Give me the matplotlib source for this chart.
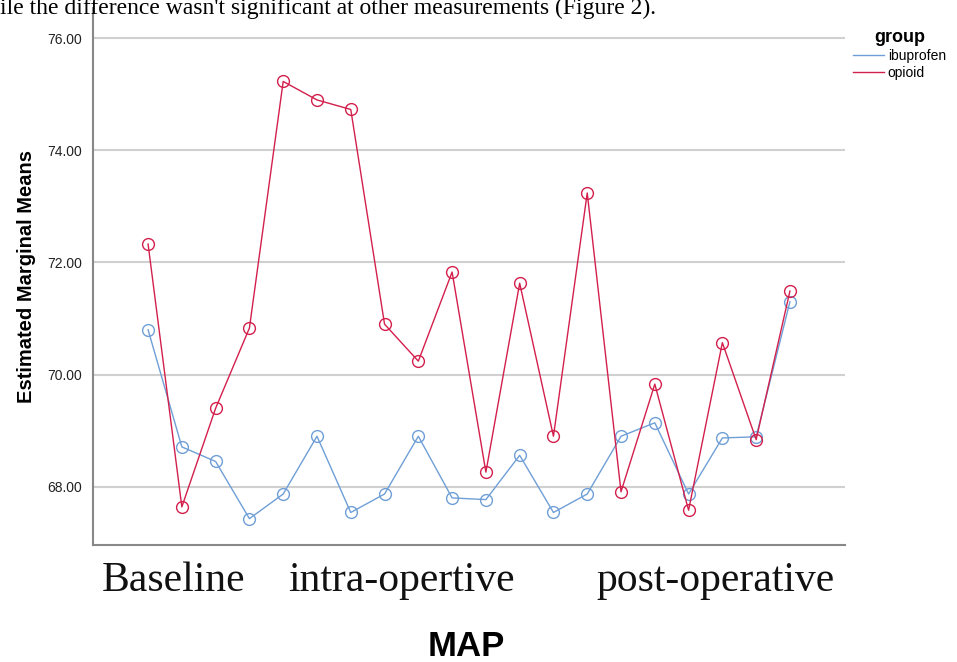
import matplotlib.pyplot as plt

# ---------------------------------------------------------------------------
# Data: estimated marginal means of MAP at 20 measurement points

points = list(range(1, 21))
ibuprofen = [70.80, 68.71, 68.45, 67.43, 67.87, 68.90, 67.54, 67.87, 68.90, 67.80,
             67.77, 68.56, 67.54, 67.87, 68.90, 69.14, 67.87, 68.87, 68.89, 71.30]
opioid = [72.33, 67.64, 69.40, 70.83, 75.23, 74.90, 74.73, 70.90, 70.24, 71.83,
          68.26, 71.63, 68.90, 73.24, 67.91, 69.83, 67.58, 70.57, 68.84, 71.49]
phase_labels = ["Baseline", "intra-opertive", "post-operative"]
y_ticks = [68, 70, 72, 74, 76]

BLUE = "#6f9fd6"
RED = "#d31f4c"

fig = plt.figure(figsize=(9.57, 6.62), dpi=100)
ax = fig.add_axes([93 / 957, 1 - 545 / 662, (845 - 93) / 957, (545 - 8) / 662])

for vals, color, name in [(ibuprofen, BLUE, "ibuprofen"), (opioid, RED, "opioid")]:
    ax.plot(points, vals, color=color, lw=1.0, label=name)
    ax.plot(points, vals, ls="none", marker="o", ms=8.5, mfc="none",
            mec=color, mew=1.0)

ax.set_xlim(-0.63, 21.63)
ax.set_ylim(66.96, 76.54)

ax.set_yticks(y_ticks)
ax.set_yticklabels([f"{v:.2f}" for v in y_ticks], fontsize=10,
                   family="Liberation Sans", color="#222222")
ax.tick_params(axis="y", length=0, pad=8)
ax.grid(axis="y", color="#d0d0d0", lw=1.5)
ax.set_axisbelow(True)

# phase labels under the axis
ax.set_xticks([1.75, 8.5, 17.8])
ax.set_xticklabels(phase_labels, fontsize=30, family="Liberation Serif",
                   color="#111111")
ax.tick_params(axis="x", length=0, pad=12)

for s in ["top", "right"]:
    ax.spines[s].set_visible(False)
for s in ["left", "bottom"]:
    ax.spines[s].set_color("#888888")
    ax.spines[s].set_linewidth(1.5)

ax.set_ylabel("Estimated Marginal Means", fontsize=14.5, fontweight="bold",
              family="Liberation Sans", labelpad=8)
fig.text(466 / 957, 1 - 656 / 662, "MAP", ha="center", va="baseline",
         fontsize=25, fontweight="bold", family="Liberation Sans")

leg = ax.legend(loc="upper left", bbox_to_anchor=(846 / 957, 1 - 22 / 662),
                bbox_transform=fig.transFigure, frameon=False, title="group",
                handlelength=2.2, handletextpad=0.3, labelspacing=0.2,
                borderpad=0, prop={"family": "Liberation Sans", "size": 10})
leg.get_title().set_fontweight("bold")
leg.get_title().set_fontsize(13)
leg.get_title().set_family("Liberation Sans")

# clipped caption line from the surrounding document
fig.text(0.0, 1 - 14 / 662,
         "ile the difference wasn't significant at other measurements (Figure 2).",
         ha="left", va="baseline", fontsize=17, family="Liberation Serif")

fig.savefig("out.png", dpi=100)
